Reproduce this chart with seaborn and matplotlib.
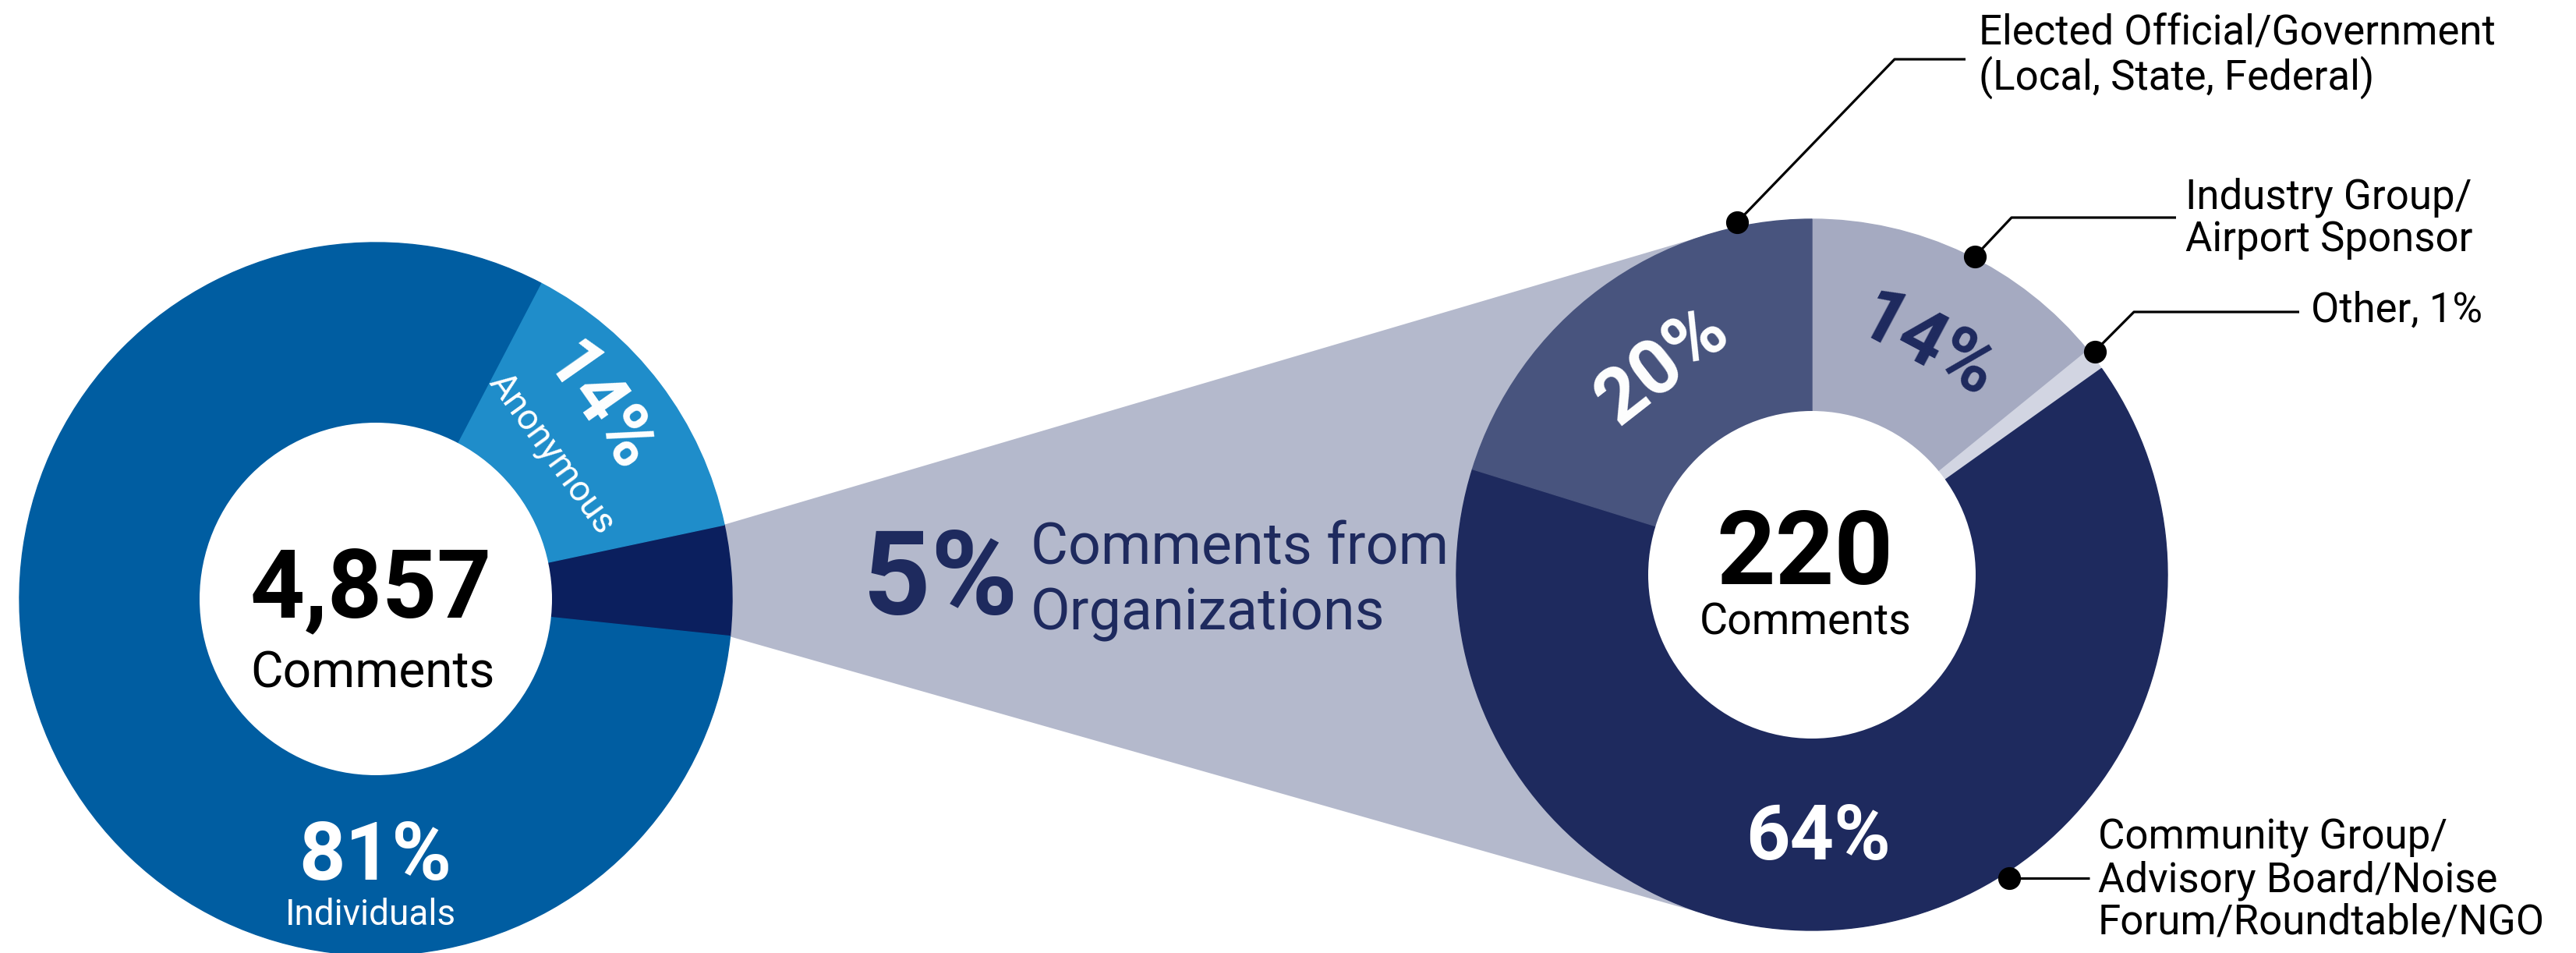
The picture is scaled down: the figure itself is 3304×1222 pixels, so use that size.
import numpy as np
import matplotlib
matplotlib.use("Agg")
import matplotlib.pyplot as plt
import seaborn as sns
from matplotlib.patches import Polygon, Circle
from matplotlib import font_manager

# ---------------- data ----------------
overall_labels = ["Organizations", "Anonymous", "Individuals"]
overall_pct = [5, 14, 81]
overall_total = "4,857"

org_labels = ["Industry Group/\nAirport Sponsor", "Other, 1%",
              "Community Group/\nAdvisory Board/Noise\nForum/Roundtable/NGO",
              "Elected Official/Government\n(Local, State, Federal)"]
org_pct = [14, 1, 64, 20]
org_total = "220"

# ---------------- style ----------------
sns.set_theme(style="white")
avail = {f.name for f in font_manager.fontManager.ttflist}
FONT = "Roboto" if "Roboto" in avail else "DejaVu Sans"
plt.rcParams["font.family"] = [FONT, "DejaVu Sans"]

left_colors = sns.color_palette(["#0B1F5E", "#1F8DCA", "#005DA1"])
right_colors = sns.color_palette(["#A5AAC1", "#D2D5E2", "#1E2A5E", "#48547E"])
band_color = "#B4B9CC"
navy = "#1E2A5E"

W, H = 3304, 1222
fig = plt.figure(figsize=(W / 100, H / 100), dpi=100)
ax = fig.add_axes([0, 0, 1, 1])

def Y(y):
    return H - y

# ---------------- left donut ----------------
L_C = (482, Y(768)); L_R = 457; L_r = 226
wl, _ = ax.pie(overall_pct, colors=left_colors, startangle=-6, counterclock=True,
               center=L_C, radius=L_R, frame=False,
               wedgeprops=dict(width=L_R - L_r, linewidth=1))
for w in wl:
    w.set_edgecolor(w.get_facecolor())
    w.set_zorder(2)

# ---------------- right donut ----------------
R_C = (2324, Y(737)); R_R = 456; R_r = 210
wr, _ = ax.pie(org_pct, colors=right_colors, startangle=90, counterclock=False,
               center=R_C, radius=R_R, frame=False,
               wedgeprops=dict(width=R_R - R_r, linewidth=1))
for w in wr:
    w.set_edgecolor(w.get_facecolor())
    w.set_zorder(2)

# ---------------- connector band ----------------
org_w = wl[0]
def pol(C, r, ang):
    a = np.deg2rad(ang)
    return (C[0] + r * np.cos(a), C[1] + r * np.sin(a))

P_top = pol(L_C, L_R - 3, org_w.theta2)
P_bot = pol(L_C, L_R - 3, org_w.theta1)

def tangent(P, C, R, sign):
    dx, dy = P[0] - C[0], P[1] - C[1]
    d = np.hypot(dx, dy)
    phi = np.arctan2(dy, dx)
    a = np.arccos(R / d)
    t = phi + sign * a
    return (C[0] + R * np.cos(t), C[1] + R * np.sin(t))

T_top = tangent(P_top, R_C, R_R, -1)
T_bot = tangent(P_bot, R_C, R_R, +1)
ax.add_patch(Polygon([P_top, T_top, R_C, T_bot, P_bot], closed=True,
                     facecolor=band_color, edgecolor="none", zorder=1))

# white holes
ax.add_patch(Circle(L_C, L_r, facecolor="white", edgecolor="none", zorder=3))
ax.add_patch(Circle(R_C, R_r, facecolor="white", edgecolor="none", zorder=3))

# ---------------- center texts ----------------
ax.text(476, Y(792), overall_total, ha="center", va="baseline", fontsize=88,
        fontweight="bold", color="black", zorder=5)
ax.text(478, Y(881), "Comments", ha="center", va="baseline", fontsize=46,
        color="black", zorder=5)
ax.text(2315, Y(749), org_total, ha="center", va="baseline", fontsize=95,
        fontweight="bold", color="black", zorder=5)
ax.text(2316, Y(814), "Comments", ha="center", va="baseline", fontsize=40,
        color="black", zorder=5)

# ---------------- wedge labels (left) ----------------
ax.text(481, Y(1128), f"{overall_pct[2]}%", ha="center", va="baseline", fontsize=75,
        fontweight="bold", color="white", zorder=5)
ax.text(475, Y(1186), overall_labels[2], ha="center", va="baseline", fontsize=33,
        color="white", zorder=5)
x, y = pol(L_C, 376, 40.5)
ax.text(x, y, f"{overall_pct[1]}%", ha="center", va="center", fontsize=68,
        fontweight="bold", color="white", rotation=-55, rotation_mode="anchor", zorder=5)
x, y = pol(L_C, 293, 39.5)
ax.text(x, y, overall_labels[1], ha="center", va="center", fontsize=33,
        color="white", rotation=-54, rotation_mode="anchor", zorder=5)

# ---------------- wedge labels (right) ----------------
x, y = pol(R_C, 330, 125.5)
ax.text(x, y, f"{org_pct[3]}%", ha="center", va="center", fontsize=71,
        fontweight="bold", color="white", rotation=38, rotation_mode="anchor", zorder=5)
x, y = pol(R_C, 327, 63.3)
ax.text(x, y, f"{org_pct[0]}%", ha="center", va="center", fontsize=71,
        fontweight="bold", color=navy, rotation=-28, rotation_mode="anchor", zorder=5)
ax.text(2332, Y(1102), f"{org_pct[2]}%", ha="center", va="baseline", fontsize=71,
        fontweight="bold", color="white", zorder=5)

# ---------------- band text ----------------
ax.text(1107, Y(788), f"{overall_pct[0]}%", ha="left", va="baseline", fontsize=109,
        fontweight="bold", color=navy, zorder=5)
ax.text(1322, Y(723), "Comments from", ha="left", va="baseline", fontsize=53,
        color=navy, zorder=5)
ax.text(1322, Y(807), "Organizations", ha="left", va="baseline", fontsize=53,
        color=navy, zorder=5)

# ---------------- callouts ----------------
# (label index, anchor angle, anchor radius, elbow (img), line end x, text x, text y)
callouts = [
    (3, 102.0, 462, (2430, 76), 2521, 2538, 72),
    (0, 62.9, 458, (2580, 279), 2791, 2803, 280),
    (1, 38.3, 462, (2737, 400), 2949, 2964, 398),
    (2, -57.0, 464, None, 2680, 2691, 1129),
]
for idx, ang, rad, elbow, xend, tx, ty in callouts:
    p0 = pol(R_C, rad, ang)
    if elbow is not None:
        xs = [p0[0], elbow[0], xend]
        ys = [p0[1], Y(elbow[1]), Y(elbow[1])]
    else:
        xs = [p0[0], xend]
        ys = [p0[1], p0[1]]
    ax.plot(xs, ys, color="black", lw=2.3, solid_capstyle="butt", zorder=6)
    ax.plot([p0[0]], [p0[1]], "o", color="black", markersize=20, zorder=7)
    ax.text(tx, Y(ty), org_labels[idx], ha="left", va="center", fontsize=38,
            color="black", linespacing=1.08, zorder=5)

ax.set_xlim(0, W)
ax.set_ylim(0, H)
ax.set_aspect("equal")
ax.axis("off")
fig.savefig("out.png", dpi=100, facecolor="white")
